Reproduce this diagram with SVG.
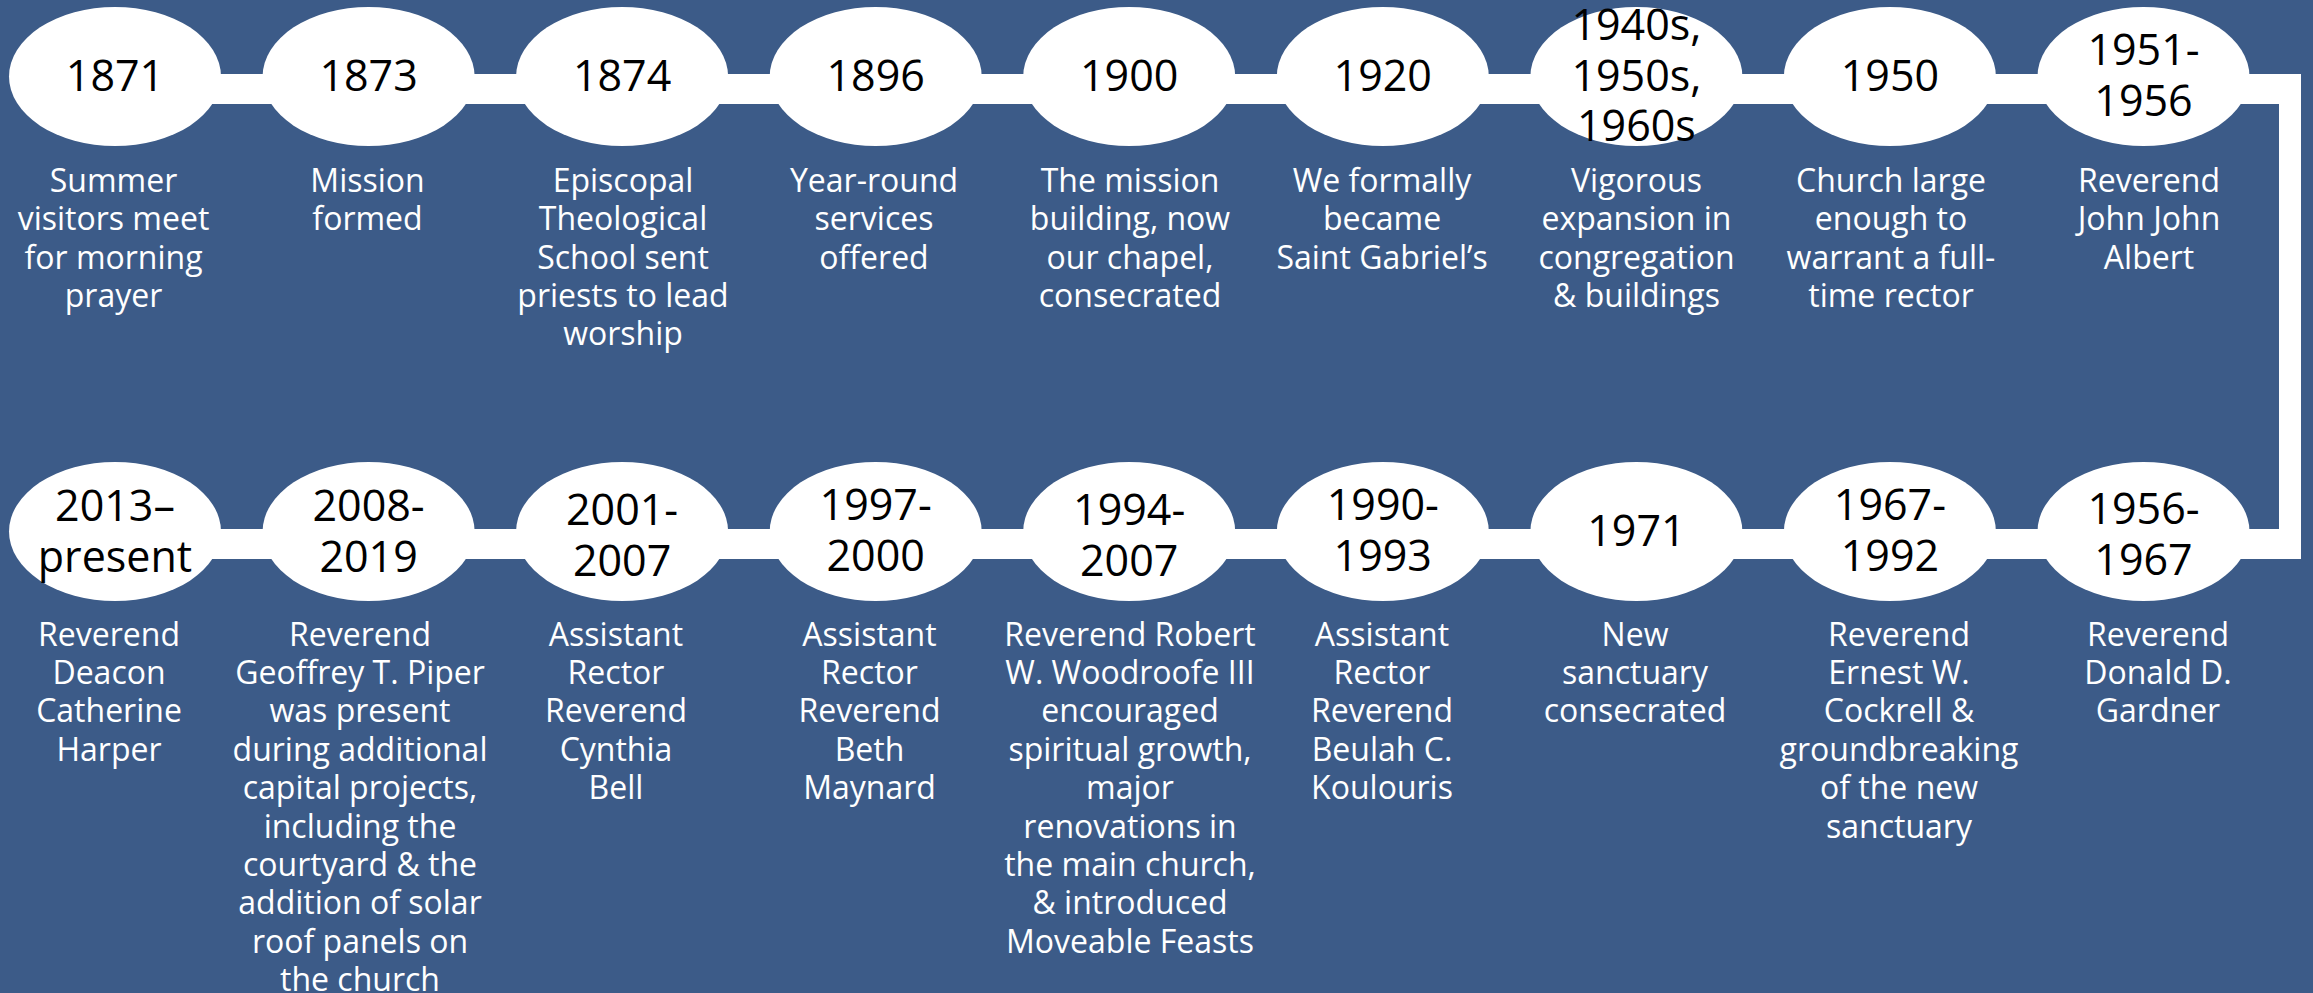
<svg xmlns="http://www.w3.org/2000/svg" width="2313" height="993" viewBox="0 0 2313 993">
<style>
.bg{fill:#3c5b88}
.bar{fill:#ffffff}
.node ellipse{fill:#ffffff}
.yr{font-family:"Open Sans","Liberation Sans",sans-serif;font-size:43px;fill:#000000;text-anchor:middle}
.desc{font-family:"Open Sans","Liberation Sans",sans-serif;font-size:32px;fill:#ffffff;text-anchor:middle}
</style>
<rect class="bg" x="0" y="0" width="2313" height="993"/>
<g id="connectors">
<rect class="bar" x="115" y="74" width="2186" height="30"/>
<rect class="bar" x="2279" y="74" width="22" height="485"/>
<rect class="bar" x="115" y="529" width="2186" height="30"/>
</g>
<g id="n1871" class="node">
<ellipse cx="115" cy="76.5" rx="106" ry="69.5"/>
<text class="yr" x="115" y="91">1871</text>
<text class="desc"><tspan x="113.5" y="192">Summer</tspan><tspan x="113.5" y="230.3">visitors meet</tspan><tspan x="113.5" y="268.6">for morning</tspan><tspan x="113.5" y="306.9">prayer</tspan></text>
</g>
<g id="n1873" class="node">
<ellipse cx="368.6" cy="76.5" rx="106" ry="69.5"/>
<text class="yr" x="368.6" y="91">1873</text>
<text class="desc"><tspan x="367.5" y="192">Mission</tspan><tspan x="367.5" y="230.3">formed</tspan></text>
</g>
<g id="n1874" class="node">
<ellipse cx="622.1" cy="76.5" rx="106" ry="69.5"/>
<text class="yr" x="622.1" y="91">1874</text>
<text class="desc"><tspan x="623" y="192">Episcopal</tspan><tspan x="623" y="230.3">Theological</tspan><tspan x="623" y="268.6">School sent</tspan><tspan x="623" y="306.9">priests to lead</tspan><tspan x="623" y="345.2">worship</tspan></text>
</g>
<g id="n1896" class="node">
<ellipse cx="875.7" cy="76.5" rx="106" ry="69.5"/>
<text class="yr" x="875.7" y="91">1896</text>
<text class="desc"><tspan x="874" y="192">Year-round</tspan><tspan x="874" y="230.3">services</tspan><tspan x="874" y="268.6">offered</tspan></text>
</g>
<g id="n1900" class="node">
<ellipse cx="1129.2" cy="76.5" rx="106" ry="69.5"/>
<text class="yr" x="1129.2" y="91">1900</text>
<text class="desc"><tspan x="1130" y="192">The mission</tspan><tspan x="1130" y="230.3">building, now</tspan><tspan x="1130" y="268.6">our chapel,</tspan><tspan x="1130" y="306.9">consecrated</tspan></text>
</g>
<g id="n1920" class="node">
<ellipse cx="1382.8" cy="76.5" rx="106" ry="69.5"/>
<text class="yr" x="1382.8" y="91">1920</text>
<text class="desc"><tspan x="1382" y="192">We formally</tspan><tspan x="1382" y="230.3">became</tspan><tspan x="1382" y="268.6">Saint Gabriel’s</tspan></text>
</g>
<g id="n1940s" class="node">
<ellipse cx="1636.4" cy="76.5" rx="106" ry="69.5"/>
<text class="yr"><tspan x="1636.4" y="40">1940s,</tspan><tspan x="1636.4" y="90.5">1950s,</tspan><tspan x="1636.4" y="141">1960s</tspan></text>
<text class="desc"><tspan x="1636.5" y="192">Vigorous</tspan><tspan x="1636.5" y="230.3">expansion in</tspan><tspan x="1636.5" y="268.6">congregation</tspan><tspan x="1636.5" y="306.9">&amp; buildings</tspan></text>
</g>
<g id="n1950" class="node">
<ellipse cx="1889.9" cy="76.5" rx="106" ry="69.5"/>
<text class="yr" x="1889.9" y="91">1950</text>
<text class="desc"><tspan x="1891" y="192">Church large</tspan><tspan x="1891" y="230.3">enough to</tspan><tspan x="1891" y="268.6">warrant a full-</tspan><tspan x="1891" y="306.9">time rector</tspan></text>
</g>
<g id="n1951" class="node">
<ellipse cx="2143.5" cy="76.5" rx="106" ry="69.5"/>
<text class="yr"><tspan x="2143.5" y="65">1951-</tspan><tspan x="2143.5" y="116">1956</tspan></text>
<text class="desc"><tspan x="2149" y="192">Reverend</tspan><tspan x="2149" y="230.3">John John</tspan><tspan x="2149" y="268.6">Albert</tspan></text>
</g>
<g id="n1956" class="node">
<ellipse cx="2143.5" cy="531.5" rx="106" ry="69.5"/>
<text class="yr"><tspan x="2143.5" y="524">1956-</tspan><tspan x="2143.5" y="575">1967</tspan></text>
<text class="desc"><tspan x="2158" y="645.5">Reverend</tspan><tspan x="2158" y="683.9">Donald D.</tspan><tspan x="2158" y="722.3">Gardner</tspan></text>
</g>
<g id="n1967" class="node">
<ellipse cx="1889.9" cy="531.5" rx="106" ry="69.5"/>
<text class="yr"><tspan x="1889.9" y="519.5">1967-</tspan><tspan x="1889.9" y="570.5">1992</tspan></text>
<text class="desc"><tspan x="1899" y="645.5">Reverend</tspan><tspan x="1899" y="683.9">Ernest W.</tspan><tspan x="1899" y="722.3">Cockrell &amp;</tspan><tspan x="1899" y="760.7">groundbreaking</tspan><tspan x="1899" y="799.1">of the new</tspan><tspan x="1899" y="837.5">sanctuary</tspan></text>
</g>
<g id="n1971" class="node">
<ellipse cx="1636.4" cy="531.5" rx="106" ry="69.5"/>
<text class="yr" x="1636.4" y="545.5">1971</text>
<text class="desc"><tspan x="1635" y="645.5">New</tspan><tspan x="1635" y="683.9">sanctuary</tspan><tspan x="1635" y="722.3">consecrated</tspan></text>
</g>
<g id="n1990" class="node">
<ellipse cx="1382.8" cy="531.5" rx="106" ry="69.5"/>
<text class="yr"><tspan x="1382.8" y="519.5">1990-</tspan><tspan x="1382.8" y="570.5">1993</tspan></text>
<text class="desc"><tspan x="1382" y="645.5">Assistant</tspan><tspan x="1382" y="683.9">Rector</tspan><tspan x="1382" y="722.3">Reverend</tspan><tspan x="1382" y="760.7">Beulah C.</tspan><tspan x="1382" y="799.1">Koulouris</tspan></text>
</g>
<g id="n1994" class="node">
<ellipse cx="1129.2" cy="531.5" rx="106" ry="69.5"/>
<text class="yr"><tspan x="1129.2" y="524.5">1994-</tspan><tspan x="1129.2" y="575.5">2007</tspan></text>
<text class="desc"><tspan x="1130" y="645.5">Reverend Robert</tspan><tspan x="1130" y="683.9">W. Woodroofe III</tspan><tspan x="1130" y="722.3">encouraged</tspan><tspan x="1130" y="760.7">spiritual growth,</tspan><tspan x="1130" y="799.1">major</tspan><tspan x="1130" y="837.5">renovations in</tspan><tspan x="1130" y="875.9">the main church,</tspan><tspan x="1130" y="914.3">&amp; introduced</tspan><tspan x="1130" y="952.7">Moveable Feasts</tspan></text>
</g>
<g id="n1997" class="node">
<ellipse cx="875.7" cy="531.5" rx="106" ry="69.5"/>
<text class="yr"><tspan x="875.7" y="519.5">1997-</tspan><tspan x="875.7" y="570.5">2000</tspan></text>
<text class="desc"><tspan x="869.5" y="645.5">Assistant</tspan><tspan x="869.5" y="683.9">Rector</tspan><tspan x="869.5" y="722.3">Reverend</tspan><tspan x="869.5" y="760.7">Beth</tspan><tspan x="869.5" y="799.1">Maynard</tspan></text>
</g>
<g id="n2001" class="node">
<ellipse cx="622.1" cy="531.5" rx="106" ry="69.5"/>
<text class="yr"><tspan x="622.1" y="524.5">2001-</tspan><tspan x="622.1" y="575.5">2007</tspan></text>
<text class="desc"><tspan x="616" y="645.5">Assistant</tspan><tspan x="616" y="683.9">Rector</tspan><tspan x="616" y="722.3">Reverend</tspan><tspan x="616" y="760.7">Cynthia</tspan><tspan x="616" y="799.1">Bell</tspan></text>
</g>
<g id="n2008" class="node">
<ellipse cx="368.6" cy="531.5" rx="106" ry="69.5"/>
<text class="yr"><tspan x="368.6" y="521">2008-</tspan><tspan x="368.6" y="572">2019</tspan></text>
<text class="desc"><tspan x="360" y="645.5">Reverend</tspan><tspan x="360" y="683.9">Geoffrey T. Piper</tspan><tspan x="360" y="722.3">was present</tspan><tspan x="360" y="760.7">during additional</tspan><tspan x="360" y="799.1">capital projects,</tspan><tspan x="360" y="837.5">including the</tspan><tspan x="360" y="875.9">courtyard &amp; the</tspan><tspan x="360" y="914.3">addition of solar</tspan><tspan x="360" y="952.7">roof panels on</tspan><tspan x="360" y="991.1">the church</tspan></text>
</g>
<g id="n2013" class="node">
<ellipse cx="115" cy="531.5" rx="106" ry="69.5"/>
<text class="yr"><tspan x="115" y="521">2013–</tspan><tspan x="115" y="572">present</tspan></text>
<text class="desc"><tspan x="109" y="645.5">Reverend</tspan><tspan x="109" y="683.9">Deacon</tspan><tspan x="109" y="722.3">Catherine</tspan><tspan x="109" y="760.7">Harper</tspan></text>
</g>
</svg>
